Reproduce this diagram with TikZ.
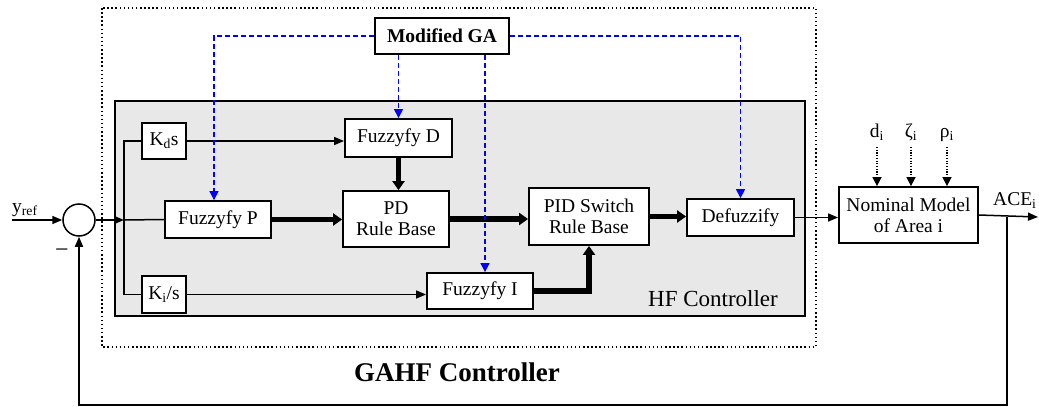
\documentclass[tikz,border=0pt]{standalone}
\usepackage{fontspec}
\setmainfont{Liberation Serif}
\newfontfamily\tms{Liberation Serif}
\usetikzlibrary{arrows.meta,shadows}
\begin{document}
\begin{tikzpicture}[x=1pt,y=-1pt,
  every node/.style={font=\tms\fontsize{19.5}{21}\selectfont},
  blk/.style={draw,fill=white,line width=1.8pt,inner sep=0pt,align=center,
    drop shadow={shadow xshift=1.2pt,shadow yshift=-1.2pt,fill=black!55,opacity=1}},
  thinln/.style={line width=1.5pt},
  thinarr/.style={line width=1.5pt,-{Triangle[length=10pt,width=8pt]}},
  fatarr/.style={line width=5.5pt,-{Triangle[length=9pt,width=12pt]}},
  gaarr/.style={blue,line width=1.2pt,dash pattern=on 5pt off 3pt,-{Triangle[length=9pt,width=9pt]}},
  dotarr/.style={line width=1.5pt,dash pattern=on 1.2pt off 1.5pt,-{Triangle[length=9pt,width=9pt]}},
  frame/.style={line width=2pt,dash pattern=on 1.5pt off 2.6pt},
]
\useasboundingbox (0,0) rectangle (1039,407);

% frames
\draw[frame] (102,8) rectangle (816,347);
\draw[fill=black!9,line width=2pt] (115,101) rectangle (805,316);

% blocks
\node[blk,minimum width=134,minimum height=36] (ga) at (442,36) {\bfseries Modified GA};
\node[blk,minimum width=44,minimum height=36] (kd) at (164,141) {K\textsubscript{d}s};
\node[blk,minimum width=44,minimum height=37] (ki) at (164,294.5) {K\textsubscript{i}/s};
\node[blk,minimum width=106,minimum height=37] (fp) at (218,219.5) {Fuzzyfy P};
\node[blk,minimum width=107,minimum height=38] (fd) at (398.5,138) {Fuzzyfy D};
\node[blk,minimum width=106,minimum height=56] (pd) at (396,219) {PD\\Rule Base};
\node[blk,minimum width=120,minimum height=57] (pid) at (589,216.5) {PID Switch\\Rule Base};
\node[blk,minimum width=107,minimum height=37] (df) at (740.5,217.5) {Defuzzify};
\node[blk,minimum width=106,minimum height=36] (fi) at (480,291) {Fuzzyfy I};
\node[blk,minimum width=139,minimum height=56] (nm) at (908.5,215) {Nominal Model\\of Area i};
\node[draw,circle,line width=1.5pt,minimum size=32,inner sep=0pt] (sum) at (79,220) {};

% texts
\node[anchor=base west,inner sep=0pt] (yref) at (12,212) {y\textsubscript{ref}};
\node[anchor=base,inner sep=0pt,font=\tms\fontsize{24}{26}\selectfont] (minus) at (62,257) {−};
\node[inner sep=0pt,font=\tms\fontsize{23}{25}\selectfont] (hf) at (713,299) {HF Controller};
\node[inner sep=0pt,font=\tms\fontsize{27}{29}\selectfont\bfseries] (gahf) at (457,372) {GAHF Controller};
\node[anchor=base,inner sep=0pt] (d) at (877,137) {d\textsubscript{i}};
\node[anchor=base,inner sep=0pt] (z) at (911,137) {ζ\textsubscript{i}};
\node[anchor=base,inner sep=0pt] (r) at (947,137) {ρ\textsubscript{i}};
\node[anchor=base west,inner sep=0pt] (ace) at (993,205) {ACE\textsubscript{i}};

\coordinate (in) at (12,220);
\coordinate (br) at (124,220);
\coordinate (split) at (1007,217);
\coordinate (out) at (1038,217);
\coordinate (fb) at (1007,405);

% input and branch
\draw[thinarr] (in) -- (sum.west);
\draw[thinarr] (sum.east) -- (br);
\draw[thinln] (kd.west) -| (br) |- (ki.west);
\draw[thinln] (br) -- (fp.west);
\draw[thinarr] (kd.east) -- (kd.east -| fd.west);
\draw[thinarr] (ki.east) -- (ki.east -| fi.west);

% fat arrows
\draw[fatarr] (fd.south) -- (fd.south |- pd.north);
\draw[fatarr] (fp.east) -- (fp.east -| pd.west);
\draw[fatarr] (pd.east) -- (pd.east -| pid.west);
\draw[fatarr] (pid.east) -- (pid.east -| df.west);
\draw[fatarr] (fi.east) -| (pid.south);

% plant
\draw[thinarr] (df.east) -- (df.east -| nm.west);
\draw[thinarr] (nm.east) -- (out);
\draw[thinarr] (split) -- (fb) -| (sum.south);
\draw[dotarr] ([yshift=-10pt]d.base) -- (d.base |- nm.north);
\draw[dotarr] ([yshift=-10pt]z.base) -- (z.base |- nm.north);
\draw[dotarr] ([yshift=-10pt]r.base) -- (r.base |- nm.north);

% GA links
\draw[gaarr] (ga.west) -| ([xshift=-4pt]fp.north);
\draw[gaarr] (fd.north |- ga.south) -- (fd.north);
\draw[gaarr] ([xshift=5pt]fi.north |- ga.south) -- ([xshift=5pt]fi.north);
\draw[gaarr] (ga.east) -| (df.north);
\end{tikzpicture}
\end{document}
